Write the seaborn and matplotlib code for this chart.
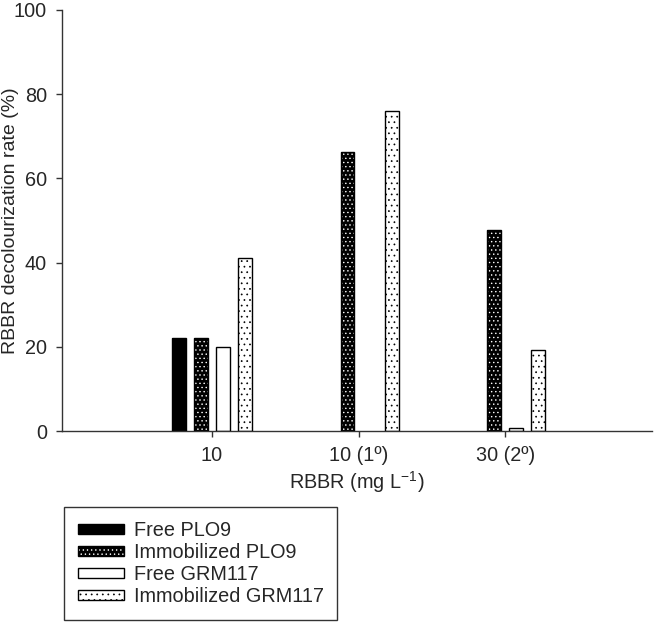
import pandas as pd
import matplotlib.pyplot as plt
import seaborn as sns
from matplotlib.patches import Patch
from matplotlib.legend_handler import HandlerTuple

# data
categories = ["10", "10 (1º)", "30 (2º)"]
series = ["Free PLO9", "Immobilized PLO9", "Free GRM117", "Immobilized GRM117"]
free_plo9 = [22.2, 0, 0]
immob_plo9 = [22.2, 66.3, 47.7]
free_grm117 = [19.9, 0, 0.7]
immob_grm117 = [41.2, 76.0, 19.3]

values = [free_plo9, immob_plo9, free_grm117, immob_grm117]
rows = []
for s, vals in zip(series, values):
    for c, v in zip(categories, vals):
        rows.append({"RBBR": c, "rate": v, "series": s})
df = pd.DataFrame(rows)

sns.set_style("ticks")
plt.rcParams["font.family"] = ["Liberation Sans", "DejaVu Sans"]
plt.rcParams["mathtext.default"] = "regular"
plt.rcParams["hatch.linewidth"] = 0.5

FS = 14.3

fig = plt.figure(figsize=(6.54, 6.22), dpi=100)
ax = fig.add_axes([0.095, 0.307, 0.902, 0.677])

sns.barplot(data=df, x="RBBR", y="rate", hue="series", order=categories,
            hue_order=series, width=0.6, gap=0.37, ax=ax, legend=False,
            palette=["black"] * 4)

# styles per series: face, hatch colour, hatch
styles = [
    ("black", "black", None),
    ("black", "white", "...."),
    ("white", "black", None),
    ("white", "black", "..."),
]
for cont, (fc, hc, hatch) in zip(ax.containers, styles):
    for bar in cont:
        if bar.get_height() == 0:
            bar.set_visible(False)
            continue
        bar.set_facecolor(fc)
        bar.set_edgecolor(hc)
        bar.set_linewidth(0)
        if hatch:
            bar.set_hatch(hatch)
        # outline on top
        x, y = bar.get_xy()
        ax.add_patch(plt.Rectangle((x, y), bar.get_width(), bar.get_height(),
                                   fill=False, edgecolor="black", linewidth=1, zorder=3))

ax.set_xlim(-1.02, 3.0)
ax.set_ylim(0, 100)
ax.set_yticks([0, 20, 40, 60, 80, 100])
ax.set_ylabel("RBBR decolourization rate (%)", fontsize=14)
ax.yaxis.set_label_coords(-0.073, 0.5)
ax.set_xlabel("RBBR (mg L$^{-1}$)", fontsize=FS, labelpad=3)
ax.tick_params(labelsize=FS, length=4, width=1, color="#333333", pad=7)
for sp in ["top", "right"]:
    ax.spines[sp].set_visible(False)
for sp in ["left", "bottom"]:
    ax.spines[sp].set_color("#333333")
    ax.spines[sp].set_linewidth(1)

handles = []
for fc, hc, hatch in styles:
    base = Patch(facecolor=fc, edgecolor=hc, hatch=hatch, linewidth=0)
    outline = Patch(facecolor="none", edgecolor="black", linewidth=1)
    handles.append((base, outline))

leg = fig.legend(handles, series, handler_map={tuple: HandlerTuple(ndivide=1, pad=0)},
                 loc="upper left", bbox_to_anchor=(64 / 654, 1 - 507 / 622),
                 fontsize=FS, frameon=True, fancybox=False, edgecolor="black",
                 handlelength=2.3, handleheight=0.4, handletextpad=0.5,
                 labelspacing=0.15, borderpad=0.7, borderaxespad=0)
leg.get_frame().set_linewidth(1)

plt.savefig("out.png", dpi=100)
